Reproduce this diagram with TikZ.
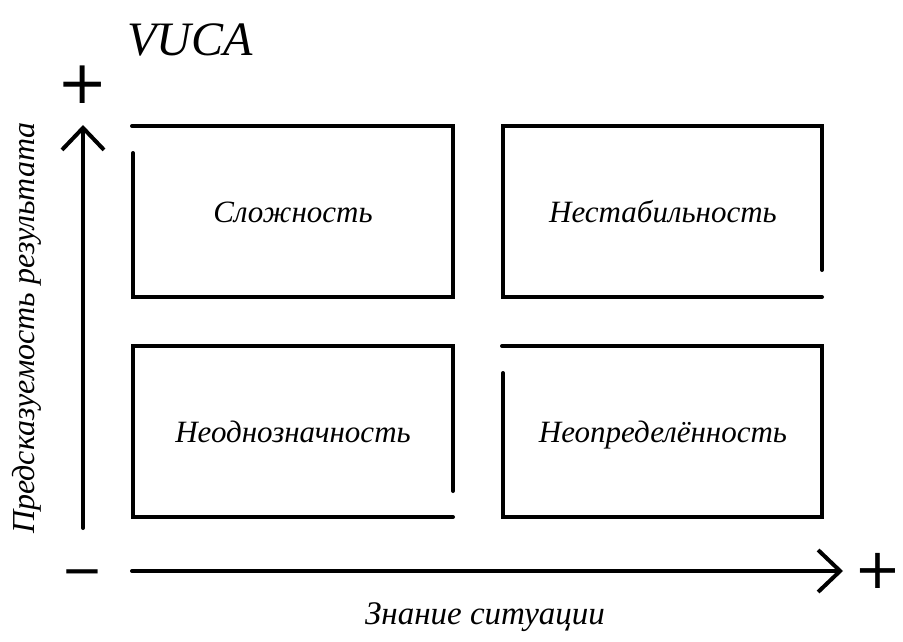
\documentclass[tikz,border=0pt]{standalone}
\usepackage{fontspec}
\setmainfont{Liberation Serif}
\newfontfamily\signfont{DejaVu Sans}
\usetikzlibrary{arrows.meta, positioning}
\tikzset{
  quad/.style     = {line width=4pt, line cap=round},
  quadtext/.style = {font=\itshape\fontsize{31}{34}\selectfont, anchor=base},
  sign/.style     = {font=\signfont\fontsize{60}{62}\selectfont, inner sep=0pt},
  axis/.style     = {line width=4pt, line cap=round,
                     -{Straight Barb[length=22pt,width=42pt,line width=4pt]}}
}

\begin{document}
\begin{tikzpicture}[x=1pt, y=-1pt]
\useasboundingbox (0,0) rectangle (903,642);

% title
\node[font=\itshape\fontsize{48}{52}\selectfont] at (190,40) (title) {VUCA};

% quadrants
\draw[quad] (133,153) -- (133,297) -- (453,297) -- (453,126) -- (132,126);
\draw[quad] (822,270) -- (822,126) -- (503,126) -- (503,297) -- (822,297);
\draw[quad] (453,491) -- (453,346) -- (133,346) -- (133,517) -- (453,517);
\draw[quad] (503,373) -- (503,517) -- (822,517) -- (822,346) -- (502,346);

\node[quadtext] at (293,222) (complex) {Сложность};
\node[quadtext] at (663,222) (volatile) {Нестабильность};
\node[quadtext] at (293,442) (ambig) {Неоднозначность};
\node[quadtext] at (663,442) (uncert) {Неопределённость};

% axes
\coordinate (ybottom) at (83,528);
\coordinate (ytop) at (83,125);
\coordinate (xleft) at (132,571);
\coordinate (xright) at (843,571);

\draw[axis] (ybottom) -- (ytop);
\draw[axis] (xleft) -- (xright);

\node[sign] at (83,85) (yplus) {+};
\node[sign, font=\signfont\fontsize{50}{52}\selectfont] at (82,579) (minus) {−};
\node[sign, font=\signfont\fontsize{56}{58}\selectfont] at (878,571) (xplus) {+};

\node[font=\itshape\fontsize{32}{36}\selectfont, rotate=90] at (27,328) (ylabel)
  {Предсказуемость результата};
\node[font=\itshape\fontsize{33}{36}\selectfont] at (485,617) (xlabel)
  {Знание ситуации};

\end{tikzpicture}
\end{document}
